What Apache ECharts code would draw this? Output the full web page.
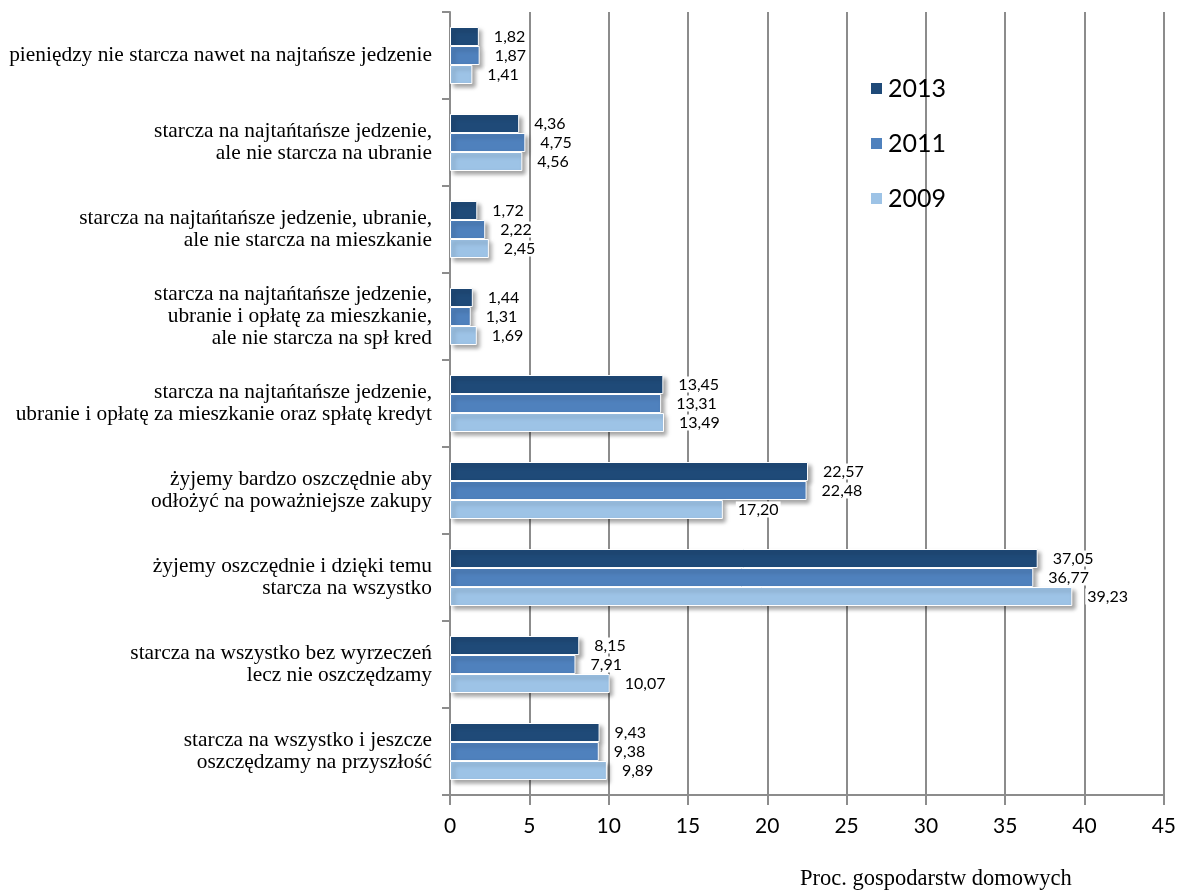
<!DOCTYPE html>
<html>
<head>
<meta charset="utf-8">
<script src="https://cdn.jsdelivr.net/npm/echarts@6/dist/echarts.min.js"></script>
<style>
  html, body { margin: 0; padding: 0; background: #fff; }
  #chart { width: 1179px; height: 895px; }
</style>
</head>
<body>
<div id="chart"></div>
<script>
// kategorie (od góry)
const categories = [
  "pieniędzy nie starcza nawet na najtańsze jedzenie",
  "starcza na najtańtańsze jedzenie,\nale nie starcza na ubranie",
  "starcza na najtańtańsze jedzenie, ubranie,\nale nie starcza na mieszkanie",
  "starcza na najtańtańsze jedzenie,\nubranie i opłatę za mieszkanie,\nale nie starcza na spł kred",
  "starcza na najtańtańsze jedzenie,\nubranie i opłatę za mieszkanie oraz spłatę kredyt",
  "żyjemy bardzo oszczędnie aby\nodłożyć na poważniejsze zakupy",
  "żyjemy oszczędnie i dzięki temu\nstarcza na wszystko",
  "starcza na wszystko bez wyrzeczeń\nlecz nie oszczędzamy",
  "starcza na wszystko i jeszcze\noszczędzamy na przyszłość"
];
const values2013 = [1.82, 4.36, 1.72, 1.44, 13.45, 22.57, 37.05, 8.15, 9.43];
const values2011 = [1.87, 4.75, 2.22, 1.31, 13.31, 22.48, 36.77, 7.91, 9.38];
const values2009 = [1.41, 4.56, 2.45, 1.69, 13.49, 17.20, 39.23, 10.07, 9.89];
const years = ["2013", "2011", "2009"];
const colors = ["#1f4a78", "#4f81bd", "#9dc3e6"];

const myChart = echarts.init(document.getElementById("chart"));

function makeSeries(name, data, color) {
  return {
    name: name,
    type: "bar",
    data: data,
    barWidth: 19,
    barGap: "0%",
    itemStyle: {
      color: color,
      borderColor: "#fff",
      borderWidth: 1,
      shadowColor: "rgba(0,0,0,0.35)",
      shadowBlur: 4,
      shadowOffsetX: 3,
      shadowOffsetY: 3
    },
    label: {
      show: true,
      position: "right",
      distance: 13,
      color: "#000",
      fontFamily: "Lato",
      fontSize: 16,
      backgroundColor: "#fff",
      padding: [0, 2],
      formatter: p => p.value.toFixed(2).replace(".", ",")
    }
  };
}

const option = {
  animation: false,
  color: colors,
  grid: { left: 450, right: 15, top: 12, bottom: 100 },
  legend: {
    orient: "vertical",
    left: 864,
    top: 71,
    itemWidth: 13,
    itemHeight: 13,
    itemGap: 30,
    icon: "rect",
    data: years,
    textStyle: { fontFamily: "Lato", fontSize: 25, color: "#000" }
  },
  xAxis: {
    type: "value",
    min: 0,
    max: 45,
    interval: 5,
    axisLine: { show: true, lineStyle: { color: "#8c8c8c", width: 2 } },
    axisTick: { show: true, length: 10, lineStyle: { color: "#8c8c8c", width: 2 } },
    axisLabel: { fontFamily: "Lato", fontSize: 21, color: "#000", margin: 21 },
    splitLine: { show: true, lineStyle: { color: "#8c8c8c", width: 2 } }
  },
  yAxis: {
    type: "category",
    inverse: true,
    data: categories,
    axisLine: { show: true, lineStyle: { color: "#8c8c8c", width: 2 } },
    axisTick: { show: true, length: 8, lineStyle: { color: "#8c8c8c", width: 2 } },
    axisLabel: {
      fontFamily: "Liberation Serif",
      fontSize: 21.4,
      lineHeight: 22,
      color: "#000",
      margin: 18
    }
  },
  graphic: [{
    type: "text",
    left: 800,
    top: 868,
    style: {
      text: "Proc. gospodarstw domowych",
      font: "22.5px 'Liberation Serif'",
      fill: "#000"
    }
  }],
  series: [
    makeSeries("2013", values2013, colors[0]),
    makeSeries("2011", values2011, colors[1]),
    makeSeries("2009", values2009, colors[2])
  ]
};

option && myChart.setOption(option);
</script>
</body>
</html>
